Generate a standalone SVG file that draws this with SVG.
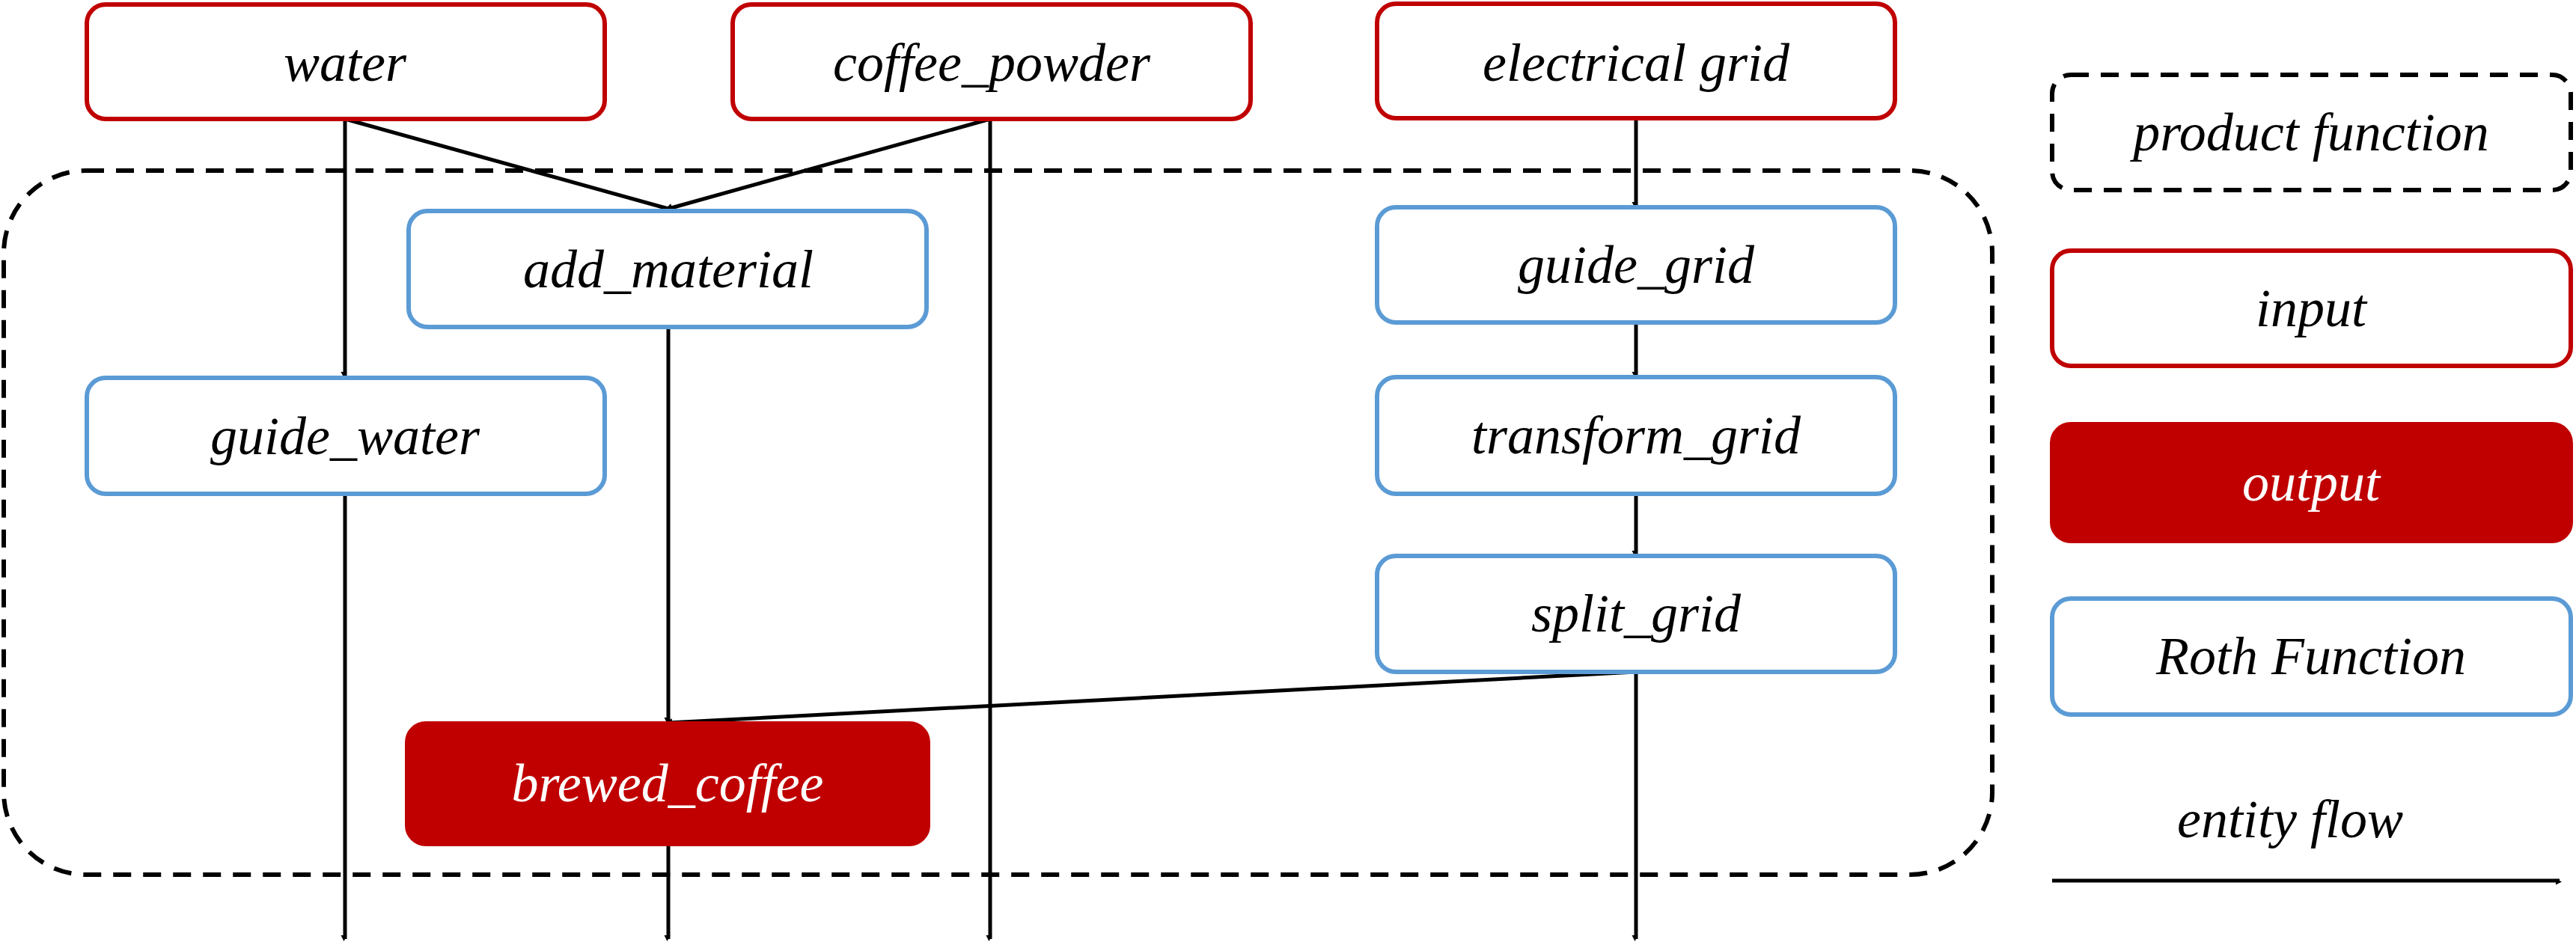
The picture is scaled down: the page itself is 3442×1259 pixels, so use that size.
<svg xmlns="http://www.w3.org/2000/svg" width="3442" height="1259" viewBox="0 0 3442 1259">
<style>
.in{fill:#fff;stroke:#C00000;stroke-width:6}
.fn{fill:#fff;stroke:#5B9BD5;stroke-width:6}
.out{fill:#C00000;stroke:#C00000;stroke-width:6}
.pf{fill:none;stroke:#000;stroke-width:6;stroke-dasharray:24 16}
text{font-family:"Liberation Serif","DejaVu Serif",serif;font-style:italic;font-size:72px;text-anchor:middle;dominant-baseline:central;fill:#000}
.w{fill:#fff}
.c{stroke:#000;stroke-width:5;fill:none;marker-end:url(#a)}
</style>
<defs><marker id="a" viewBox="0 0 10 10" refX="10" refY="5" markerWidth="5" markerHeight="7" orient="auto" markerUnits="userSpaceOnUse" style="overflow:visible"><path d="M0,0 L10,5 L0,10 Z" fill="#000" transform="scale(1.6)" /></marker></defs>
<g id="container"><rect class="pf" x="5" y="228" width="2657" height="941" rx="110"/></g>
<g id="connectors">
<line class="c" x1="461" y1="159" x2="461" y2="502"/>
<line class="c" x1="461" y1="159" x2="893" y2="279"/>
<line class="c" x1="1323" y1="159" x2="893" y2="279"/>
<line class="c" x1="1323" y1="159" x2="1323" y2="1255"/>
<line class="c" x1="461" y1="660" x2="461" y2="1255"/>
<line class="c" x1="893" y1="437" x2="893" y2="964"/>
<line class="c" x1="893" y1="1128" x2="893" y2="1255"/>
<line class="c" x1="2186" y1="158" x2="2186" y2="275"/>
<line class="c" x1="2186" y1="431" x2="2186" y2="502"/>
<line class="c" x1="2186" y1="660" x2="2186" y2="741"/>
<line class="c" x1="2186" y1="898" x2="893" y2="966"/>
<line class="c" x1="2186" y1="898" x2="2186" y2="1255"/>
<line class="c" x1="2742" y1="1177" x2="3420" y2="1177"/>
</g>
<g id="water"><rect class="in" x="116" y="6" width="692" height="153" rx="25"/><text x="461" y="84">water</text></g>
<g id="coffee_powder"><rect class="in" x="979" y="6" width="692" height="153" rx="25"/><text x="1325" y="84">coffee_powder</text></g>
<g id="electrical_grid"><rect class="in" x="1840" y="5" width="692" height="153" rx="25"/><text x="2186" y="84">electrical grid</text></g>
<g id="add_material"><rect class="fn" x="546" y="282" width="692" height="155" rx="25"/><text x="893" y="360">add_material</text></g>
<g id="guide_water"><rect class="fn" x="116" y="505" width="692" height="155" rx="25"/><text x="461" y="583">guide_water</text></g>
<g id="guide_grid"><rect class="fn" x="1840" y="277" width="692" height="154" rx="25"/><text x="2186" y="354">guide_grid</text></g>
<g id="transform_grid"><rect class="fn" x="1840" y="504" width="692" height="156" rx="25"/><text x="2186" y="582">transform_grid</text></g>
<g id="split_grid"><rect class="fn" x="1840" y="743" width="692" height="155" rx="25"/><text x="2186" y="820">split_grid</text></g>
<g id="brewed_coffee"><rect class="out" x="544" y="967" width="696" height="161" rx="25"/><text class="w" x="892" y="1047">brewed_coffee</text></g>
<g id="legend_product_function"><rect class="pf" x="2742" y="100" width="693" height="154" rx="25"/><text x="3088" y="177">product function</text></g>
<g id="legend_input"><rect class="in" x="2742" y="335" width="693" height="154" rx="25"/><text x="3088" y="412">input</text></g>
<g id="legend_output"><rect class="out" x="2742" y="567" width="693" height="156" rx="25"/><text class="w" x="3088" y="645">output</text></g>
<g id="legend_roth"><rect class="fn" x="2742" y="800" width="693" height="155" rx="25"/><text x="3088" y="877">Roth Function</text></g>
<g id="legend_flow"><text x="3060" y="1095">entity flow</text></g>
</svg>
